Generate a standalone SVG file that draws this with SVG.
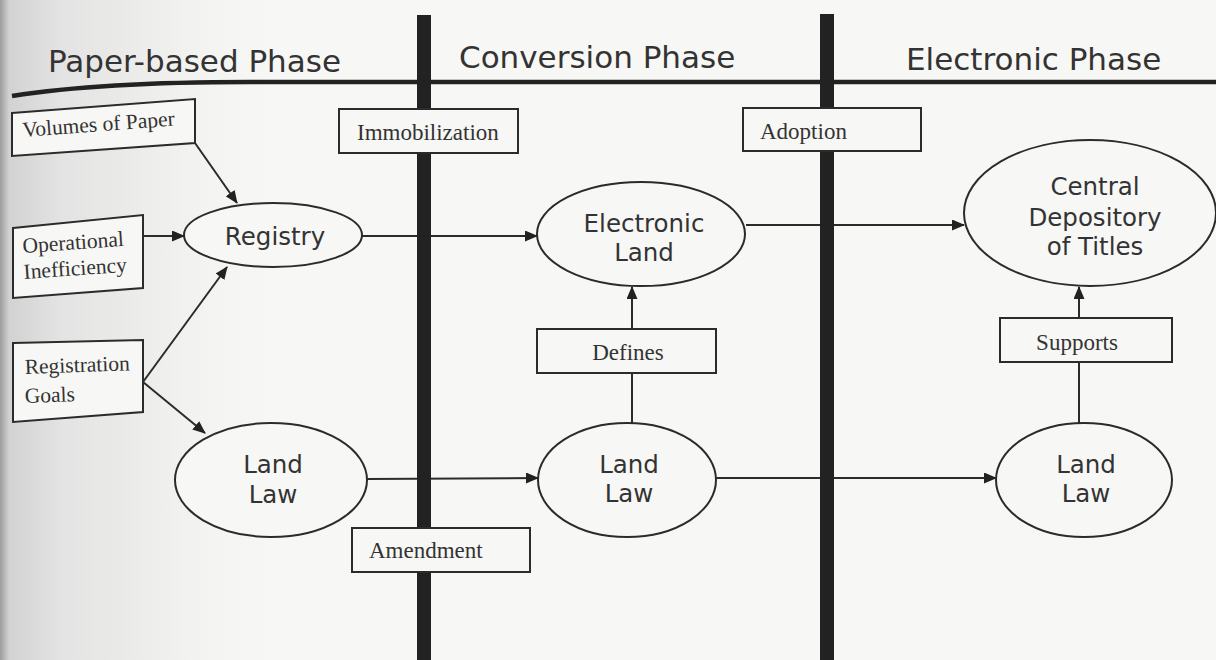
<svg xmlns="http://www.w3.org/2000/svg" width="1216" height="660" viewBox="0 0 1216 660">
  <defs>
    <style>
      .hdr { font-family: "DejaVu Sans", Verdana, sans-serif; font-size: 31px; fill: #333; }
      .lbl { font-family: "DejaVu Sans", Verdana, sans-serif; font-size: 24.5px; fill: #333; text-anchor: middle; }
      .srf { font-family: "Liberation Serif", "Times New Roman", serif; font-size: 23px; fill: #333; }
      .sm { font-size: 21.5px; }
      .mid { text-anchor: middle; }
      .node { fill: #f7f7f5; stroke: #2b2b2b; stroke-width: 2; }
      .edge { fill: none; stroke: #2b2b2b; stroke-width: 2; }
      .bar { fill: #222; }
    </style>
    <marker id="arrow" markerUnits="userSpaceOnUse" markerWidth="13" markerHeight="11" refX="12" refY="5.5" orient="auto">
      <path d="M0,0 L13,5.5 L0,11 z" fill="#222"/>
    </marker>
    <linearGradient id="gutter" x1="0" y1="0" x2="1" y2="0">
      <stop offset="0" stop-color="#9c9c9c"/>
      <stop offset="0.03" stop-color="#d2d2d2"/>
      <stop offset="0.2" stop-color="#e3e3e3"/>
      <stop offset="0.55" stop-color="#efefed"/>
      <stop offset="1" stop-color="#f7f7f5" stop-opacity="0"/>
    </linearGradient>
  </defs>

  <!-- page -->
  <rect x="0" y="0" width="1216" height="660" fill="#f7f7f5"/>
  <rect x="0" y="0" width="300" height="660" fill="url(#gutter)"/>

  <!-- connectors -->
  <g id="connectors">
    <line class="edge" x1="195" y1="143" x2="237" y2="203" marker-end="url(#arrow)"/>
    <line class="edge" x1="143" y1="236" x2="184" y2="236" marker-end="url(#arrow)"/>
    <line class="edge" x1="143" y1="382" x2="227" y2="267" marker-end="url(#arrow)"/>
    <line class="edge" x1="143" y1="382" x2="205" y2="433" marker-end="url(#arrow)"/>
    <line class="edge" x1="362" y1="236" x2="537" y2="236" marker-end="url(#arrow)"/>
    <line class="edge" x1="746" y1="225" x2="964" y2="225" marker-end="url(#arrow)"/>
    <line class="edge" x1="367" y1="479" x2="538" y2="478" marker-end="url(#arrow)"/>
    <line class="edge" x1="716" y1="478" x2="996" y2="478" marker-end="url(#arrow)"/>
    <line class="edge" x1="632" y1="423" x2="632" y2="373"/>
    <line class="edge" x1="632" y1="329" x2="632" y2="287" marker-end="url(#arrow)"/>
    <line class="edge" x1="1079" y1="423" x2="1079" y2="362"/>
    <line class="edge" x1="1079" y1="318" x2="1079" y2="287" marker-end="url(#arrow)"/>
  </g>

  <!-- phase dividers and header rule -->
  <g id="phases">
    <path d="M12,96 Q100,82 250,82 H1216" fill="none" stroke="#222" stroke-width="4.5"/>
    <rect class="bar" x="417" y="15" width="14" height="645"/>
    <rect class="bar" x="820" y="14" width="14" height="646"/>
    <text class="hdr" x="48" y="72">Paper-based Phase</text>
    <text class="hdr" x="459" y="68">Conversion Phase</text>
    <text class="hdr" x="906" y="70">Electronic Phase</text>
  </g>

  <!-- input boxes -->
  <g id="volumes-of-paper">
    <polygon class="node" points="12,113 195,99 195,143 12,156"/>
    <text class="srf sm" x="23" y="137" transform="rotate(-4.3 23 137)">Volumes of Paper</text>
  </g>
  <g id="operational-inefficiency">
    <polygon class="node" points="13,228 143,215 143,288 13,298"/>
    <text class="srf sm" x="23" y="253" transform="rotate(-4 23 253)">Operational</text>
    <text class="srf sm" x="24" y="279" transform="rotate(-4 24 279)">Inefficiency</text>
  </g>
  <g id="registration-goals">
    <polygon class="node" points="13,343 143,340 143,412 13,422"/>
    <text class="srf sm" x="25" y="374" transform="rotate(-2 25 374)">Registration</text>
    <text class="srf sm" x="25" y="403" transform="rotate(-2 25 403)">Goals</text>
  </g>

  <!-- process labels -->
  <g id="immobilization">
    <rect class="node" x="339" y="109" width="179" height="44"/>
    <text class="srf" x="357" y="140">Immobilization</text>
  </g>
  <g id="adoption">
    <rect class="node" x="743" y="108" width="178" height="43"/>
    <text class="srf" x="760" y="139">Adoption</text>
  </g>
  <g id="defines">
    <rect class="node" x="537" y="329" width="179" height="44"/>
    <text class="srf mid" x="628" y="360">Defines</text>
  </g>
  <g id="supports">
    <rect class="node" x="1000" y="318" width="172" height="44"/>
    <text class="srf mid" x="1077" y="350">Supports</text>
  </g>
  <g id="amendment">
    <rect class="node" x="352" y="528" width="178" height="44"/>
    <text class="srf" x="369" y="558">Amendment</text>
  </g>

  <!-- entities -->
  <g id="registry">
    <ellipse class="node" cx="273" cy="235" rx="89" ry="32"/>
    <text class="lbl" x="275" y="245">Registry</text>
  </g>
  <g id="electronic-land">
    <ellipse class="node" cx="641" cy="234" rx="104" ry="52"/>
    <text class="lbl" x="644" y="232">Electronic</text>
    <text class="lbl" x="644" y="261">Land</text>
  </g>
  <g id="central-depository">
    <ellipse class="node" cx="1090" cy="213" rx="126" ry="73"/>
    <text class="lbl" x="1095" y="195">Central</text>
    <text class="lbl" x="1095" y="226">Depository</text>
    <text class="lbl" x="1095" y="255">of Titles</text>
  </g>
  <g id="land-law-paper">
    <ellipse class="node" cx="271" cy="480" rx="96" ry="57"/>
    <text class="lbl" x="273" y="473">Land</text>
    <text class="lbl" x="273" y="503">Law</text>
  </g>
  <g id="land-law-conversion">
    <ellipse class="node" cx="627" cy="480" rx="89" ry="57"/>
    <text class="lbl" x="629" y="473">Land</text>
    <text class="lbl" x="629" y="502">Law</text>
  </g>
  <g id="land-law-electronic">
    <ellipse class="node" cx="1084" cy="480" rx="88" ry="57"/>
    <text class="lbl" x="1086" y="473">Land</text>
    <text class="lbl" x="1086" y="502">Law</text>
  </g>
</svg>
